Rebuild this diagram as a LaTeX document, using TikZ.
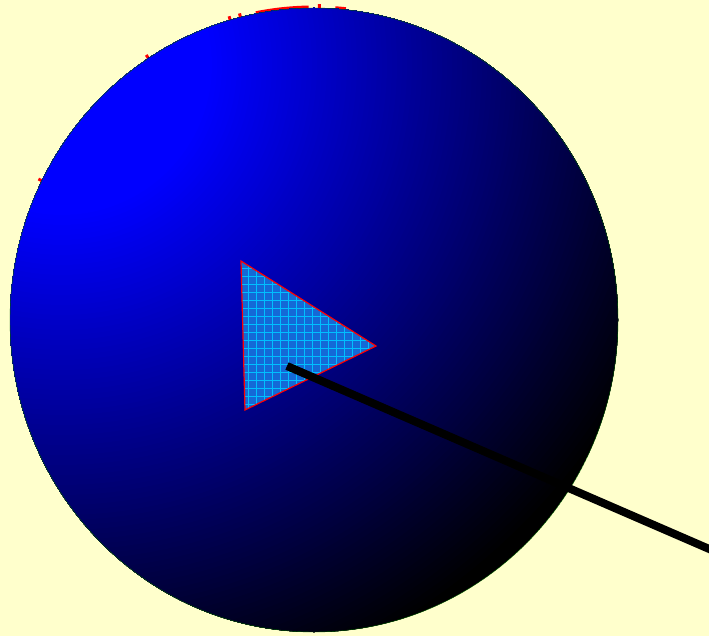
\documentclass[tikz,border=0pt]{standalone}
\usepackage{tikz}
\usetikzlibrary{patterns.meta}

\begin{document}
\begin{tikzpicture}[
    x=1pt, y=-1pt,
    bg/.style={fill={rgb,255:red,255;green,255;blue,204}},
    rimline/.style={draw=green!35!black, line width=0.4pt},
    rim/.style={red, line width=3pt},
    tri/.style={fill={rgb,255:red,20;green,105;blue,215}},
    trigrid/.style={pattern={Hatch[angle=0, distance=8pt, line width=0.8pt]},
                    pattern color=cyan!75!blue},
    triedge/.style={draw=red, line width=1.2pt, line join=miter},
    pointer/.style={line width=8pt, black},
  ]
  \fill[bg] (0,0) rectangle (709,636);
  \useasboundingbox (0,0) rectangle (709,636);
  \coordinate (c) at (314,320);
  \coordinate (hl) at (62,65);
  % red marks peeking out behind the disc
  \foreach \a in {153.5, 123, 106, 104, 89}
    \draw[rim] ({314+300*cos(\a)}, {320-308*sin(\a)})
            -- ({314+308*cos(\a)}, {320-316*sin(\a)});
  \draw[rim] ({314+305*cos(101)}, {320-313*sin(101)})
    arc[start angle=101, end angle=91, x radius=305, y radius=-313];
  \draw[rim] ({314+305*cos(86)}, {320-313*sin(86)})
    arc[start angle=86, end angle=84, x radius=305, y radius=-313];
  % disc, glow from the upper left
  \begin{scope}
    \clip (c) ellipse[x radius=304, y radius=312];
    \fill[black] (c) ellipse[x radius=304, y radius=312];
    \foreach \r in {655,650,...,150} {
      \pgfmathsetmacro\f{(655-\r)/5.05}
      \fill[blue!\f!black] (hl) circle[radius=\r];
    }
  \end{scope}
  \draw[rimline] (c) ellipse[x radius=304, y radius=312];
  % triangle
  \coordinate (tA) at (241,261);
  \coordinate (tB) at (376,346);
  \coordinate (tC) at (245,410);
  \fill[tri] (tA) -- (tB) -- (tC) -- cycle;
  \fill[trigrid] (tA) -- (tB) -- (tC) -- cycle;
  \draw[triedge] (tA) -- (tB) -- (tC) -- cycle;
  % pointer line
  \coordinate (p0) at (287,366);
  \coordinate (p1) at (730,558);
  \draw[pointer] (p0) -- (p1);
\end{tikzpicture}
\end{document}
